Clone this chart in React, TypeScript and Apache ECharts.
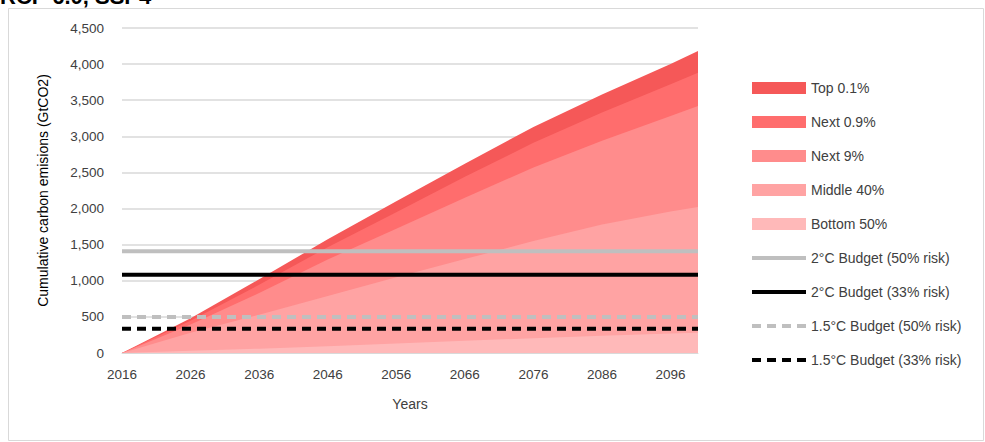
import { useEffect, useRef } from 'react';
import * as echarts from 'echarts';

const years = [2016, 2026, 2036, 2046, 2056, 2066, 2076, 2086, 2096, 2100];
const bottom50 = [0, 30, 60, 95, 130, 170, 205, 240, 270, 280];
const middle40 = [0, 250, 470, 695, 920, 1130, 1345, 1540, 1690, 1740];
const next9 = [0, 115, 300, 505, 670, 850, 1020, 1160, 1320, 1400];
const next09 = [0, 50, 115, 170, 230, 290, 340, 390, 440, 460];
const top01 = [0, 35, 75, 110, 150, 180, 220, 250, 280, 300];

const layerNames = ['Bottom 50%', 'Middle 40%', 'Next 9%', 'Next 0.9%', 'Top 0.1%'];
const layerColors = ['#ffb9b9', '#ffa3a3', '#ff8c8c', '#ff6d6d', '#f55858'];
const layerValues = [bottom50, middle40, next9, next09, top01];

const budgetNames = [
  '2°C Budget (50% risk)',
  '2°C Budget (33% risk)',
  '1.5°C Budget (50% risk)',
  '1.5°C Budget (33% risk)',
];
const budgetValues = [1410, 1085, 500, 335];
const budgetColors = ['#bfbfbf', '#000000', '#bfbfbf', '#000000'];
const budgetDashed = [false, false, true, true];

const FONT = '"Liberation Sans", Arial, sans-serif';

export default function App() {
  const chartRef = useRef<HTMLDivElement>(null);

  useEffect(() => {
    if (!chartRef.current) return;
    const chart = echarts.init(chartRef.current, null, { renderer: 'svg' });

    // cumulative tops of each layer
    const cumulative = layerValues.map((_, i) =>
      years.map((_, j) => layerValues.slice(0, i + 1).reduce((s, arr) => s + arr[j], 0))
    );

    const areaSeries = layerNames.map((name, i) => ({
      name,
      type: 'line',
      symbol: 'none',
      lineStyle: { width: 0 },
      itemStyle: { color: layerColors[i] },
      areaStyle: { color: layerColors[i], opacity: 1 },
      data: years.map((y, j) => [y, cumulative[i][j]]),
      z: 1 + (layerNames.length - i) * 0.1,
    }));

    const budgetSeries = budgetNames.map((name, i) => ({
      name,
      type: 'line',
      symbol: 'none',
      itemStyle: { color: budgetColors[i] },
      lineStyle: {
        color: budgetColors[i],
        width: 4,
        type: budgetDashed[i] ? [9, 6] : 'solid',
      },
      data: [
        [years[0], budgetValues[i]],
        [years[years.length - 1], budgetValues[i]],
      ],
      z: 3,
    }));

    const legendOrder = [...layerNames].reverse().concat(budgetNames);

    chart.setOption({
      animation: false,
      textStyle: { fontFamily: FONT },
      graphic: [
        {
          type: 'rect',
          shape: { x: 8.5, y: 8.5, width: 975, height: 432 },
          style: { fill: 'none', stroke: '#d9d9d9', lineWidth: 1 },
        },
        {
          type: 'text',
          left: 0,
          top: -15,
          style: { text: 'RCP 6.0, SSP4', font: `bold 22px ${FONT}`, fill: '#000' },
        },
      ],
      grid: { left: 122, right: 287, top: 28, bottom: 89 },
      legend: {
        orient: 'vertical',
        left: 745,
        top: 76,
        itemGap: 20,
        itemWidth: 54,
        itemHeight: 12,
        textStyle: { fontSize: 14, color: '#404040', fontFamily: FONT },
        data: legendOrder.map((n, i) =>
          i < 5
            ? { name: n, icon: 'rect' }
            : { name: n, itemStyle: { opacity: 0 }, lineStyle: { width: 4 } }
        ),
      },
      xAxis: {
        type: 'value',
        min: 2016,
        max: 2100,
        interval: 10,
        name: 'Years',
        nameLocation: 'middle',
        nameGap: 44,
        nameTextStyle: { fontSize: 14, color: '#404040' },
        axisLine: { lineStyle: { color: '#d9d9d9' } },
        axisTick: { show: false },
        splitLine: { show: false },
        axisLabel: {
          color: '#404040',
          fontSize: 13.5,
          margin: 14,
          showMaxLabel: false,
          formatter: (v: number) => String(v),
        },
      },
      yAxis: {
        type: 'value',
        min: 0,
        max: 4500,
        interval: 500,
        name: 'Cumulative carbon emisions (GtCO2)',
        nameLocation: 'middle',
        nameGap: 72,
        nameTextStyle: { fontSize: 14, color: '#000' },
        axisLine: { show: false },
        axisTick: { show: false },
        splitLine: { lineStyle: { color: '#d9d9d9', width: 1.5 } },
        axisLabel: {
          color: '#404040',
          fontSize: 13.5,
          margin: 18,
          formatter: (v: number) => v.toLocaleString('en-US'),
        },
      },
      series: [...areaSeries, ...budgetSeries],
    });

    return () => chart.dispose();
  }, []);

  return (
    <div
      ref={chartRef}
      style={{ position: 'absolute', left: 0, top: 0, width: 985, height: 442, background: '#fff' }}
    />
  );
}
